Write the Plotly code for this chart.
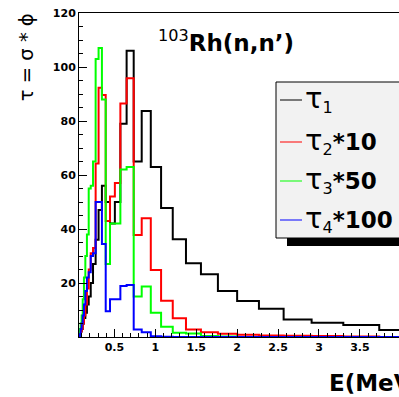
import plotly.graph_objects as go

# Logarithmic energy binning (MeV), shared by all four spectra
bin_edges = [0.0775, 0.0879, 0.0996, 0.1128, 0.1279, 0.1449, 0.1642, 0.1860,
             0.2108, 0.2389, 0.2707, 0.3067, 0.3475, 0.3938, 0.4463, 0.5057,
             0.5730, 0.6493, 0.7358, 0.8337, 0.9447, 1.0705, 1.2131, 1.3746,
             1.5576, 1.7650, 2.0000, 2.2663, 2.5681, 2.9100, 3.2974, 3.7365,
             4.2340]

tau1 = [1, 2, 3, 5, 7, 9, 12, 15, 20, 27, 36, 47, 56, 50, 42, 50,
        79, 106, 65, 83.7, 63, 47.8, 36.2, 27.3, 23.2, 17, 13.3, 10.5,
        6.5, 5.3, 4.4, 2.6]
tau2_x10 = [1, 2, 3, 5, 8, 12, 18, 25, 31, 33, 64.3, 92.3, 89.6, 43, 52, 57,
            86.5, 95.8, 37.8, 44, 24.8, 13.4, 6.9, 2.8, 1.8, 1.2, 0.8, 0.6,
            0.5, 0.4, 0.2, 0]
tau3_x50 = [3, 5, 8, 14, 22, 30, 38, 55, 56, 65, 103, 107, 88, 27, 42, 42,
            62, 63, 15, 18.7, 9, 3.8, 1.6, 1.3, 0.4, 0.2, 0, 0,
            0, 0, 0, 0]
tau4_x100 = [1, 3, 5, 8, 12, 17, 22, 24, 30, 31, 50, 50, 34.4, 9.5, 14, 14,
             18.9, 19.3, 2.8, 1.8, 0.3, 0.1, 0, 0, 0, 0, 0, 0,
             0, 0, 0, 0]

TAU = '<span style="font-size:29px">τ</span>'
series = [
    (tau1, "#000000", TAU + "<sub>1</sub>"),
    (tau2_x10, "#ff0000", TAU + "<sub>2</sub><b>*10</b>"),
    (tau3_x50, "#00ff00", TAU + "<sub>3</sub><b>*50</b>"),
    (tau4_x100, "#0000ff", TAU + "<sub>4</sub><b>*100</b>"),
]

FONT = "DejaVu Sans"

fig = go.Figure()
for vals, color, _ in series:
    # outline of a histogram: rise from zero at the first edge, step through bins
    xs = [bin_edges[0]] + bin_edges
    ys = [0] + vals + [vals[-1]]
    fig.add_trace(go.Scatter(x=xs, y=ys, mode="lines", line_shape="hv",
                             line=dict(color=color, width=2), showlegend=False,
                             hoverinfo="skip"))

L, T, W, H = 79, 13, 320, 324

# y title sits near the top of the axis: a zero-width lead-in keeps the
# following no-break spaces from being trimmed, and they push the text up
y_title = "\u200b" + "\u00a0" * 38 + "τ = σ * ϕ"

fig.update_layout(
    width=399, height=397,
    margin=dict(l=L, r=399 - L - W, t=T, b=397 - T - H),
    paper_bgcolor="white", plot_bgcolor="white",
    font=dict(family=FONT, color="black"),
    xaxis=dict(range=[0.0674, 0.0674 + W / 81.83], showgrid=False, zeroline=False,
               showline=True, linecolor="black", linewidth=1, mirror=True,
               tickvals=[0.5, 1, 1.5, 2, 2.5, 3, 3.5, 4],
               ticktext=["0.5", "1", "1.5", "2", "2.5", "3", "3.5", "4"],
               ticks="inside", ticklen=8, tickcolor="black",
               tickfont=dict(family=FONT, size=11, weight="bold"),
               minor=dict(dtick=0.1, tick0=0, ticks="inside", ticklen=4,
                          tickcolor="black")),
    yaxis=dict(range=[0, 120], showgrid=False, zeroline=False,
               showline=True, linecolor="black", linewidth=1,
               tickvals=[20, 40, 60, 80, 100, 120],
               ticks="inside", ticklen=8, tickcolor="black",
               tickfont=dict(family=FONT, size=11, weight="bold"),
               minor=dict(dtick=5, tick0=0, ticks="inside", ticklen=4,
                          tickcolor="black"),
               title=dict(text=y_title, standoff=14,
                          font=dict(family=FONT, size=19.5))),
)

def px(xp):
    return (xp - L) / W

def py(yp):
    return (T + H - yp) / H

# legend frame with drop shadow
fig.add_shape(type="rect", xref="paper", yref="paper",
              x0=px(287), x1=px(420), y0=py(246), y1=py(238),
              fillcolor="black", line=dict(width=0), layer="above")
fig.add_shape(type="rect", xref="paper", yref="paper",
              x0=px(276), x1=px(420), y0=py(238), y1=py(82),
              fillcolor="#f2f2f2", line=dict(color="black", width=1), layer="above")

rows_y = [100, 142, 181, 220]
for (vals, color, label), ry in zip(series, rows_y):
    fig.add_shape(type="line", xref="paper", yref="paper",
                  x0=px(280), x1=px(302), y0=py(ry), y1=py(ry),
                  line=dict(color=color, width=1), layer="above")
    fig.add_annotation(xref="paper", yref="paper", x=px(303), y=py(ry - 1),
                       text=label, showarrow=False, xanchor="left",
                       yanchor="middle", font=dict(family=FONT, size=23))

# nucleus / reaction label
fig.add_annotation(xref="paper", yref="paper", x=px(156), y=py(41),
                   text="<sup>103</sup><b>Rh(n,n’)</b>", showarrow=False,
                   xanchor="left", yanchor="middle",
                   font=dict(family=FONT, size=23))

# x axis title, running off the right edge
fig.add_annotation(xref="paper", yref="paper", x=px(327), y=py(383),
                   text="<b>E(MeV)</b>", showarrow=False,
                   xanchor="left", yanchor="middle",
                   font=dict(family=FONT, size=23))

fig.write_html("out.html")
